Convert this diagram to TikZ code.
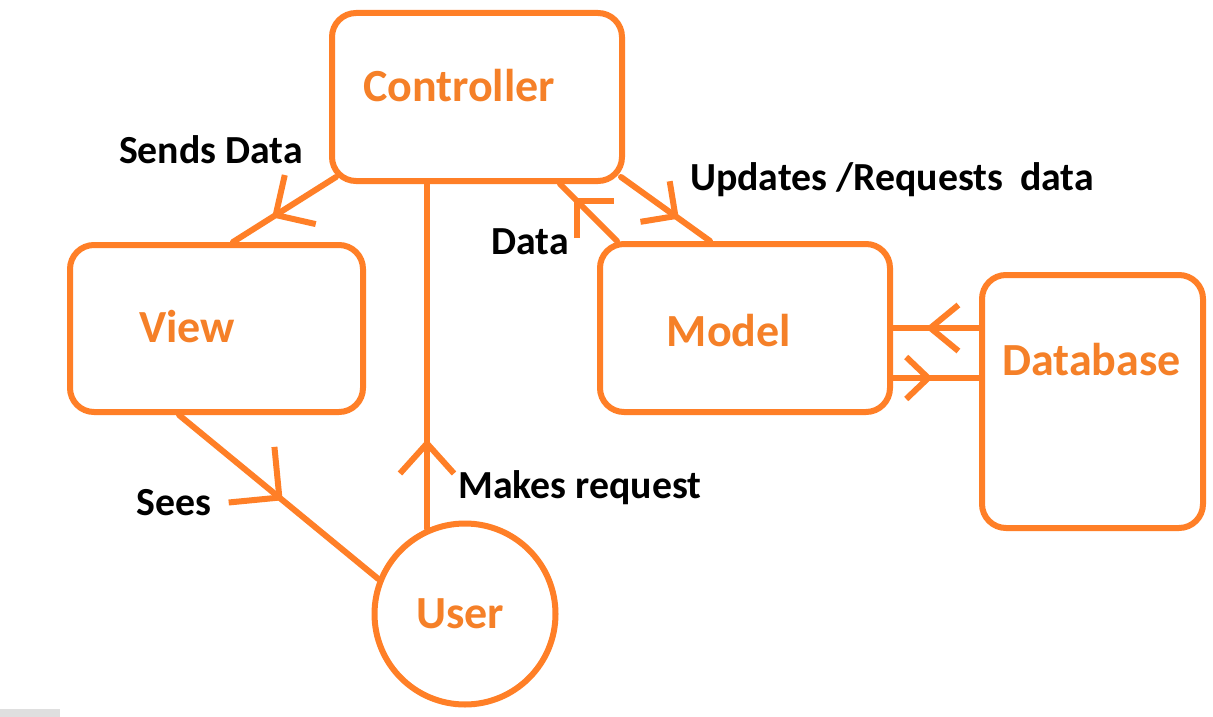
\documentclass[tikz,border=0pt]{standalone}
\usepackage{fontspec}
\setmainfont{Carlito}
\usetikzlibrary{arrows.meta,decorations.markings,calc}
\definecolor{paintorange}{RGB}{255,127,39}
\definecolor{txtorange}{RGB}{245,128,40}
\tikzset{
  box/.style={draw=paintorange,line width=6pt,rounded corners=24pt,inner sep=0pt},
  usercirc/.style={draw=paintorange,line width=6pt,circle,inner sep=0pt,minimum size=181pt},
  conn/.style={draw=paintorange,line width=6pt,line cap=round,line join=round},
  arrowat/.style n args={3}{postaction={decorate,decoration={markings,
     mark=at position #1 with {\arrow[paintorange,line width=6pt,line cap=round]{Straight Barb[length=#2pt,width=#3pt]}}}}},
  otext/.style={text=txtorange,font=\fontsize{46}{52}\selectfont\bfseries,inner sep=0pt,anchor=base},
  btext/.style={text=black,font=\fontsize{39.8}{46}\selectfont\bfseries,inner sep=0pt,anchor=base}
}
\begin{document}
\begin{tikzpicture}[x=1pt,y=-1pt]
\useasboundingbox (0,0) rectangle (1213,717);
\fill[white] (0,0) rectangle (1213,717);
\fill[gray!25] (0,709) rectangle (60,717);
% boxes
\node[box,minimum width=290pt,minimum height=168pt] (ctrl) at (477,97) {};
\node[box,minimum width=293pt,minimum height=167pt] (view) at (216.5,328.5) {};
\node[box,minimum width=290pt,minimum height=168pt] (model) at (745,328) {};
\node[box,minimum width=221pt,minimum height=253pt] (db) at (1092.5,401.5) {};
\node[usercirc] (user) at (465,614) {};
% box texts
\node[otext] (ctrlt) at (459,101) {Controller};
\node[otext] (viewt) at (187,342) {View};
\node[otext] (modelt) at (729,346) {Model};
\node[otext] (dbt) at (1091.5,375) {Database};
\node[otext] (usert) at (460,628) {User};
% connector end points
\coordinate (mlow) at ($(model.east)+(0,50)$);
% connectors
\draw[conn,arrowat={0.62}{29}{58}] ($(ctrl.south west)+(7,-7)$) -- ($(view.north west)+(166,0)$);
\draw[conn,arrowat={0.65}{25}{50}] ($(ctrl.south east)+(-4,-7)$) -- ($(model.north west)+(113,0)$);
\draw[conn,arrowat={0.75}{26}{52}] ($(model.north west)+(20,0)$) -- ($(ctrl.south west)+(231,0)$);
\draw[conn,arrowat={0.26}{30}{54}] (user.114) -- (user.114 |- ctrl.south);
\draw[conn,arrowat={0.52}{36}{72}] ($(view.south west)+(112,0)$) -- (user.158);
\draw[conn,arrowat={0.62}{28}{46}] (db.west |- model.east) -- (model.east);
\draw[conn,arrowat={0.46}{22}{42}] (mlow) -- (mlow -| db.west);
% labels
\node[btext] (lsend) at (211,163) {Sends Data};
\node[btext] (lupd) at (892,190) {Updates /Requests\hspace{0.2em} data};
\node[btext] (ldata) at (530,254) {Data};
\node[btext] (lsees) at (174,515) {Sees};
\node[btext] (lreq) at (580,498) {Makes request};
\end{tikzpicture}
\end{document}
